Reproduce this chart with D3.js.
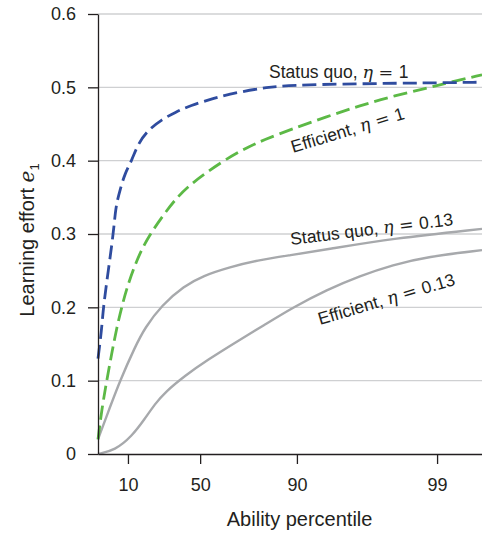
<!DOCTYPE html>
<html>
<head>
<meta charset="utf-8">
<script src="https://cdn.jsdelivr.net/npm/d3@7"></script>
<style>
  body { margin: 0; background: #fff; }
  svg text { font-family: "Liberation Sans", Arial, sans-serif; fill: #231f20; }
</style>
</head>
<body>
<div id="chart"></div>
<script>
// x is an ability index (0-100) along the axis; ticks labelled as percentiles
const tickAbility = [7.8, 26.6, 51.8, 88.3];
const tickLabels = ["10", "50", "90", "99"];
const yTicks = [0, 0.1, 0.2, 0.3, 0.4, 0.5, 0.6];

const statusQuo1 = [
  [0, 0.13], [0.96, 0.17], [1.38, 0.20], [2.68, 0.25], [3.98, 0.30], [4.5, 0.33],
  [5.0, 0.345], [5.73, 0.36], [7.03, 0.383], [8.78, 0.40], [10.5, 0.424], [13.1, 0.442],
  [16.6, 0.456], [20.1, 0.466], [24.0, 0.475], [30.0, 0.485], [37.0, 0.494], [44.0, 0.500],
  [50.0, 0.503], [68.2, 0.505], [85.7, 0.506], [100, 0.507]
];
const efficient1 = [
  [0, 0.02], [0.96, 0.06], [2.27, 0.10], [3.57, 0.137], [4.87, 0.172], [6.17, 0.20],
  [7.47, 0.226], [10.1, 0.265], [13.1, 0.297], [18.3, 0.335], [20.5, 0.349], [24.0, 0.368],
  [32.6, 0.400], [38.8, 0.418], [43.0, 0.428], [50.4, 0.443], [59.6, 0.46], [68.2, 0.475],
  [76.8, 0.488], [85.7, 0.499], [90.9, 0.506], [100, 0.517]
];
const statusQuo013 = [
  [0, 0.02], [3.13, 0.064], [5.73, 0.10], [9.64, 0.146], [12.2, 0.172], [16.6, 0.203],
  [22.4, 0.229], [27.3, 0.243], [34.4, 0.255], [41.4, 0.264], [50.0, 0.271], [59.6, 0.279],
  [76.8, 0.294], [100, 0.307]
];
const efficient013 = [
  [0, 0], [4.4, 0.005], [8.8, 0.024], [12.2, 0.048], [14.8, 0.068], [17.4, 0.084],
  [22.7, 0.107], [28.4, 0.128], [37.0, 0.156], [43.0, 0.175], [50.8, 0.20], [59.6, 0.224],
  [68.2, 0.243], [76.8, 0.258], [85.7, 0.269], [100, 0.278]
];

const series = [
  { name: "sq013", values: statusQuo013, color: "#a7a9ac", dash: null },
  { name: "eff013", values: efficient013, color: "#a7a9ac", dash: null },
  { name: "eff1", values: efficient1, color: "#5cb946", dash: "14,6" },
  { name: "sq1", values: statusQuo1, color: "#2f4c9f", dash: "14,6" }
];

const width = 482, height = 533;
const margin = { left: 98, right: 0, top: 14, bottom: 79 };

const svg = d3.select("#chart").append("svg").attr("width", width).attr("height", height);

const x = d3.scaleLinear().domain([0, 100]).range([margin.left, width - margin.right]);
const y = d3.scaleLinear().domain([0, 0.6]).range([height - margin.bottom, margin.top]);

// grid
svg.append("g").selectAll("line")
  .data(yTicks.filter(d => d > 0))
  .join("line")
  .attr("x1", x(0)).attr("x2", x(100))
  .attr("y1", d => y(d)).attr("y2", d => y(d))
  .attr("stroke", "#cfd0d2").attr("stroke-width", 1.3);

const line = d3.line().x(d => x(d[0])).y(d => y(d[1])).curve(d3.curveBasis);

svg.append("g").selectAll("path")
  .data(series)
  .join("path")
  .attr("d", d => line(d.values))
  .attr("fill", "none")
  .attr("stroke", d => d.color)
  .attr("stroke-width", d => d.dash ? 2.8 : 2.4)
  .attr("stroke-dasharray", d => d.dash);

// axes
const yAxis = svg.append("g")
  .attr("transform", `translate(${x(0)},0)`)
  .call(d3.axisLeft(y).tickValues(yTicks).tickFormat(d => d === 0 ? "0" : d3.format(".1f")(d))
    .tickSize(10).tickSizeOuter(0).tickPadding(12));

const xAxis = svg.append("g")
  .attr("transform", `translate(0,${y(0)})`)
  .call(d3.axisBottom(x).tickValues(tickAbility).tickFormat((d, i) => tickLabels[i])
    .tickSize(10).tickSizeOuter(0).tickPadding(14));

[yAxis, xAxis].forEach(g => {
  g.selectAll("path, line").attr("stroke", "#231f20").attr("stroke-width", 1.3);
  g.selectAll("text").style("font-size", "18px").attr("fill", "#231f20");
});

// axis titles
svg.append("text")
  .attr("x", x(52.5)).attr("y", 526)
  .attr("text-anchor", "middle")
  .style("font-size", "20px")
  .text("Ability percentile");

const yTitle = svg.append("text")
  .attr("transform", `translate(34,240) rotate(-90)`)
  .attr("text-anchor", "middle")
  .style("font-size", "20px");
yTitle.append("tspan").text("Learning effort ");
yTitle.append("tspan").attr("font-family", "DejaVu Serif, serif").style("font-style", "italic").text("e");
yTitle.append("tspan").attr("dy", 5).style("font-size", "13px").text("1");

// curve labels
const labels = [
  { pre: "Status quo, ", val: "1", x: 269, y: 78, angle: 0 },
  { pre: "Efficient, ", val: "1", x: 293, y: 153, angle: -17 },
  { pre: "Status quo, ", val: "0.13", x: 291, y: 245, angle: -7 },
  { pre: "Efficient, ", val: "0.13", x: 320, y: 325, angle: -16.5 }
];

labels.forEach(l => {
  const t = svg.append("text")
    .attr("transform", `translate(${l.x},${l.y}) rotate(${l.angle})`)
    .style("font-size", "17.5px");
  t.append("tspan").text(l.pre);
  t.append("tspan").attr("font-family", "DejaVu Serif, serif").style("font-style", "italic").text("η");
  t.append("tspan").attr("font-family", "DejaVu Serif, serif").text(" = ");
  t.append("tspan").text(l.val);
});
</script>
</body>
</html>
